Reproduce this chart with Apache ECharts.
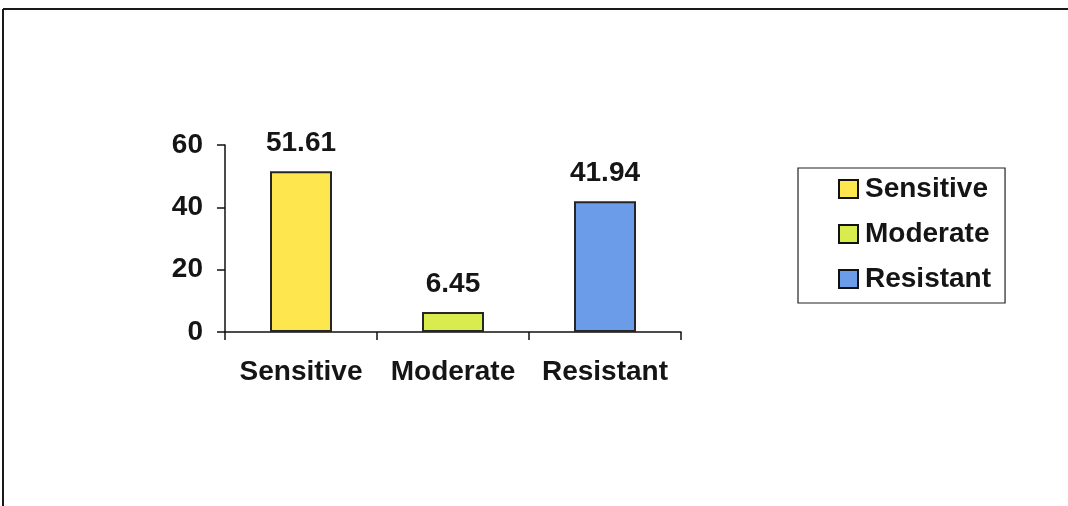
<!DOCTYPE html>
<html>
<head>
<meta charset="utf-8">
<style>
  html, body { margin: 0; padding: 0; background: #fff; }
  #chart { width: 1068px; height: 506px; }
</style>
<script src="https://cdn.jsdelivr.net/npm/echarts@6/dist/echarts.min.js"></script>
</head>
<body>
<div id="chart"></div>
<script>
// Susceptibility groups and their percentages
const categories = ['Sensitive', 'Moderate', 'Resistant'];
const percentValues = [51.61, 6.45, 41.94];
const barColors = ['#FDE64E', '#D9EC4E', '#6A9CEA'];
const yTicks = { min: 0, max: 60, interval: 20 };

const FONT = '"Liberation Sans", Arial, sans-serif';

const chart = echarts.init(document.getElementById('chart'), null, { renderer: 'canvas' });

// One series per group so each gets its own legend entry; stacking keeps
// every bar centred on its own category.
const series = categories.map((name, i) => ({
  name: name,
  type: 'bar',
  stack: 'groups',
  barWidth: 62,
  data: categories.map((c, j) => (j === i ? percentValues[i] : '-')),
  itemStyle: {
    color: barColors[i],
    borderColor: '#262626',
    borderWidth: 2
  },
  label: {
    show: true,
    position: 'top',
    distance: 14,
    formatter: (p) => p.value.toFixed(2),
    fontFamily: FONT,
    fontWeight: 'bold',
    fontSize: 28,
    color: '#151515'
  }
}));

chart.setOption({
  animation: false,
  backgroundColor: '#ffffff',
  textStyle: { fontFamily: FONT },
  grid: { left: 225, right: 387, top: 145, bottom: 174, containLabel: false },
  xAxis: {
    type: 'category',
    data: categories,
    axisLine: { lineStyle: { color: '#111', width: 1.5 } },
    axisTick: { show: true, interval: 0, alignWithLabel: false, length: 8, lineStyle: { color: '#111', width: 1.5 } },
    axisLabel: {
      interval: 0,
      hideOverlap: false,
      margin: 26,
      fontFamily: FONT,
      fontWeight: 'bold',
      fontSize: 28,
      color: '#151515'
    },
    splitLine: { show: false }
  },
  yAxis: {
    type: 'value',
    min: yTicks.min,
    max: yTicks.max,
    interval: yTicks.interval,
    axisLine: { show: true, lineStyle: { color: '#111', width: 1.5 } },
    axisTick: { show: true, length: 8, lineStyle: { color: '#111', width: 1.5 } },
    axisLabel: {
      margin: 22,
      fontFamily: FONT,
      fontWeight: 'bold',
      fontSize: 28,
      color: '#151515'
    },
    splitLine: { show: false }
  },
  legend: {
    orient: 'vertical',
    left: 798,
    top: 168,
    data: categories,
    icon: 'rect',
    itemWidth: 19,
    itemHeight: 18,
    itemGap: 15,
    padding: [6, 14, 9, 40],
    borderColor: '#222',
    borderWidth: 1.2,
    itemStyle: { borderColor: '#111', borderWidth: 2 },
    textStyle: {
      fontFamily: FONT,
      fontWeight: 'bold',
      fontSize: 28,
      lineHeight: 30,
      color: '#151515',
      padding: [0, 0, 0, 2]
    }
  },
  graphic: [
    {
      type: 'line',
      shape: { x1: 3, y1: 9, x2: 1068, y2: 9 },
      style: { stroke: '#1a1a1a', lineWidth: 2 }
    },
    {
      type: 'line',
      shape: { x1: 3, y1: 9, x2: 3, y2: 506 },
      style: { stroke: '#1a1a1a', lineWidth: 2 }
    }
  ],
  series: series
});
</script>
</body>
</html>
